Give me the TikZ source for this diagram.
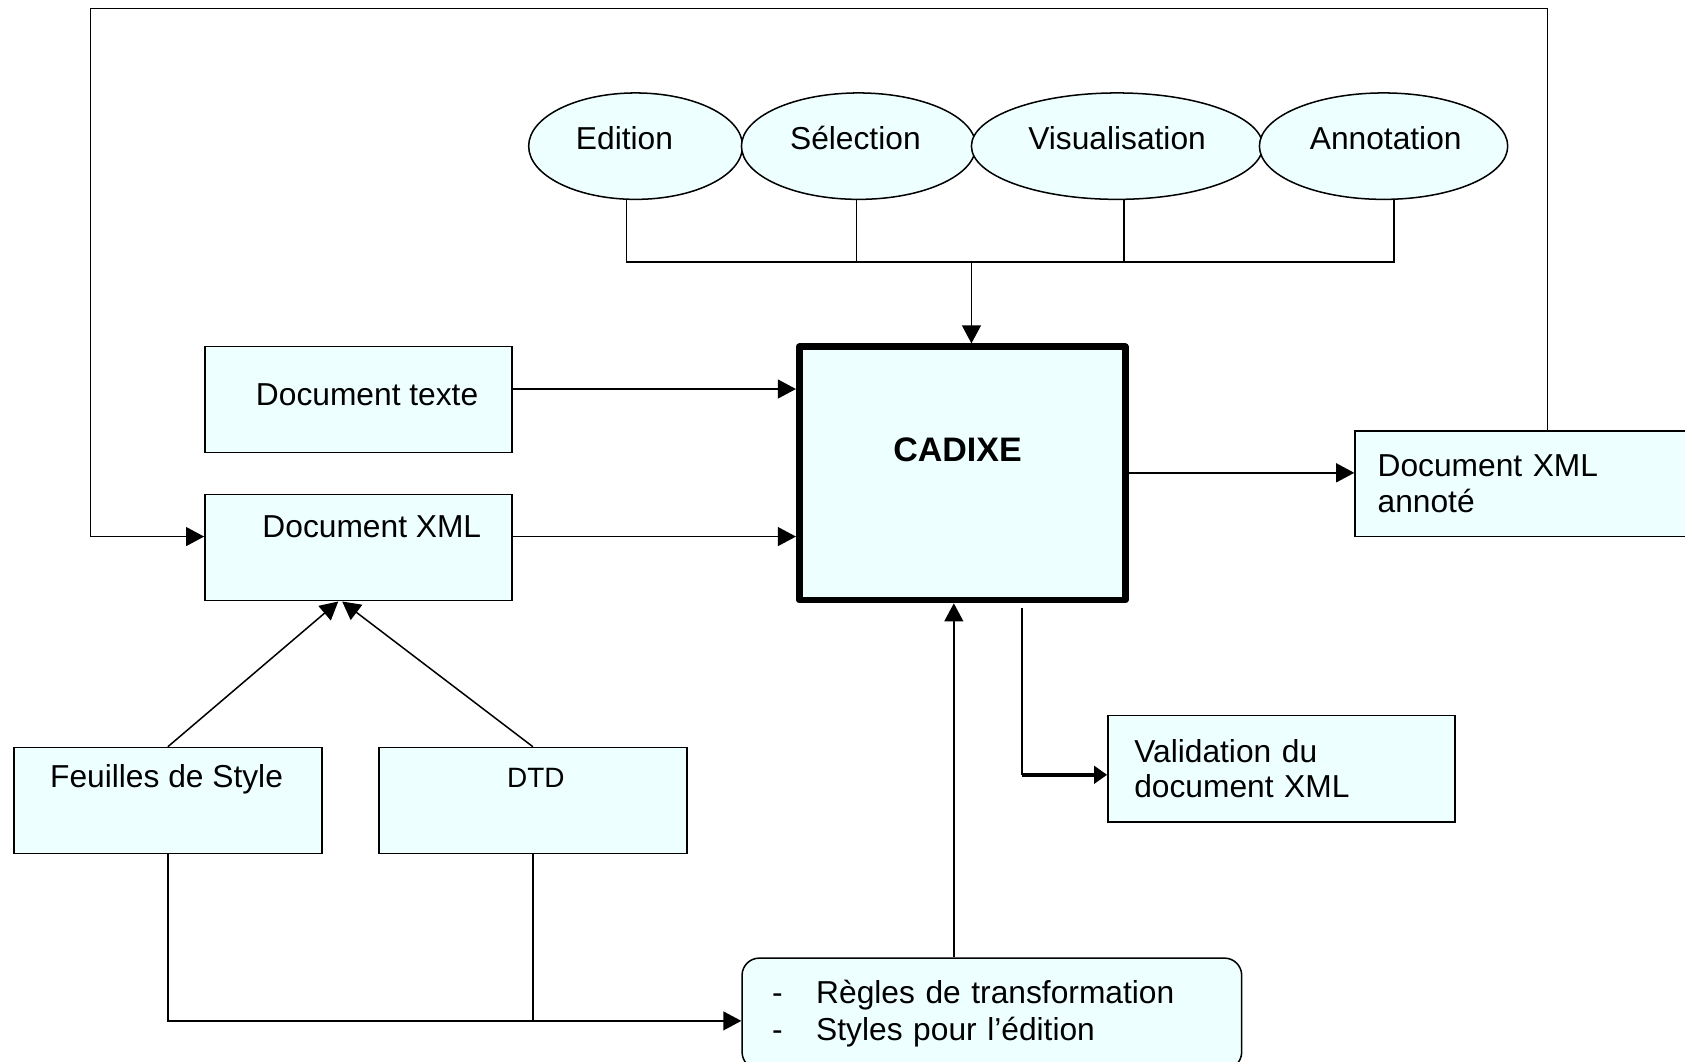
\documentclass[tikz,border=0pt]{standalone}
\usepackage{fontspec}
\setmainfont{Liberation Sans}
\usetikzlibrary{arrows.meta,shapes.geometric}
\definecolor{boxfill}{RGB}{238,255,255}
\begin{document}
\begin{tikzpicture}[x=0.025cm,y=-0.025cm,
  line width=1pt,
  arr/.style={-{Triangle[length=0.42cm,width=0.44cm]}},
  txt/.style={font=\fontsize{21pt}{25pt}\selectfont},
  box/.style={draw, fill=boxfill, rectangle, font=\fontsize{21pt}{23.5pt}\selectfont},
  oval/.style={draw, fill=boxfill, ellipse, minimum height=2.475cm, inner sep=0pt}]
\useasboundingbox (0,0) rectangle (1568,988);
\clip (0,0) rectangle (1568,988);
\fill[white] (0,0) rectangle (1568,988);

% ellipses
\node[oval, minimum width=4.975cm, label={[txt,xshift=-0.26cm,yshift=0.19cm]center:Edition}] (ed) at (591.5,136) {};
\node[oval, minimum width=5.45cm, label={[txt,xshift=-0.075cm,yshift=0.19cm]center:Sélection}] (se) at (799,136) {};
\node[oval, minimum width=6.775cm, label={[txt,yshift=0.19cm]center:Visualisation}] (vi) at (1039.5,136) {};
\node[oval, minimum width=5.775cm, label={[txt,xshift=0.05cm,yshift=0.19cm]center:Annotation}] (an) at (1287.5,136) {};

% boxes
\node[box, minimum width=7.145cm, minimum height=2.465cm, label={[txt,xshift=0.2cm,yshift=0.125cm]center:Document texte}] (dt) at (333.6,371.9) {};
\node[box, minimum width=7.145cm, minimum height=2.475cm, label={[txt,xshift=0.31cm,yshift=0.49cm]center:Document XML}] (dx) at (333.6,509.5) {};
\node[box, minimum width=7.16cm, minimum height=2.47cm, label={[txt,xshift=-0.03cm,yshift=0.5cm]center:Feuilles de Style}] (fs) at (156.2,745) {};
\node[box, minimum width=7.16cm, minimum height=2.47cm, label={[font=\fontsize{18.5pt}{22pt}\selectfont,xshift=0.07cm,yshift=0.525cm]center:DTD}] (dtd) at (495.9,745) {};
\node[draw, fill=boxfill, line width=4.4pt, line join=round, minimum width=7.58cm, minimum height=5.89cm, inner sep=0pt,
  label={[font=\bfseries\fontsize{22.5pt}{26pt}\selectfont, xshift=-0.11cm, yshift=0.54cm]center:CADIXE}] (cad) at (895.4,440.5) {};
\node[box, minimum height=2.475cm, text width=6.845cm, inner xsep=0.615cm, align=left] (val) at (1192.5,715.5) {Validation du\\document XML};
\node[box, minimum height=2.45cm, text width=7.425cm, inner xsep=0.525cm, align=left] (an2) at (1430.5,450) {Document XML\\annoté};
\node[box, rounded corners=0.4cm, minimum height=2.585cm, text width=10.22cm, inner xsep=0.7cm, align=left,
  font=\fontsize{21pt}{24.9pt}\selectfont] (reg) at (923,943.3)
  {\makebox[1.025cm][l]{-}Règles de transformation\\\makebox[1.025cm][l]{-}Styles pour l’édition};

% feedback loop
\coordinate (fbR) at (1440,8);
\coordinate (fbL) at (84,499.3);
\draw[arr] (an2.north -| fbR) -- (fbR) -| (fbL) -- (fbL -| dx.west);

% bus from ellipses
\coordinate (bus) at (904,244);
\draw ([xshift=-0.21cm]ed.south) |- (bus) -| ([xshift=0.24cm]an.south);
\draw ([xshift=-0.05cm]se.south) -- ([xshift=-0.05cm]se.south |- bus);
\draw ([xshift=0.16cm]vi.south) -- ([xshift=0.16cm]vi.south |- bus);
\draw[arr] (bus) -- (bus |- cad.north);

% inputs to CADIXE
\coordinate (r1) at (0,362);
\coordinate (r2) at (0,499.3);
\coordinate (r3) at (0,440);
\draw[arr] (dt.east |- r1) -- (cad.west |- r1);
\draw[arr] (dx.east |- r2) -- (cad.west |- r2);
\draw[arr] (cad.east |- r3) -- (an2.west |- r3);

% styles / DTD to Document XML
\draw[arr] (fs.north) -- ([xshift=-0.47cm]dx.south);
\draw[arr] (dtd.north) -- ([xshift=-0.38cm]dx.south);

% styles / DTD to rules
\coordinate (jy) at (0,950);
\draw[arr] (fs.south) |- (reg.west |- jy);
\draw (dtd.south) -- (dtd.south |- jy);

% rules to CADIXE
\coordinate (ux) at (887.6,0);
\draw[arr] (reg.north -| ux) -- (cad.south -| ux);

% validation
\coordinate (vy) at (951,721);
\draw ([yshift=-0.1cm]cad.south -| vy) -- (vy);
\draw[-{Triangle[length=0.3cm,width=0.4cm]}, line width=2.4pt] (vy) -- (vy -| val.west);
\end{tikzpicture}
\end{document}
